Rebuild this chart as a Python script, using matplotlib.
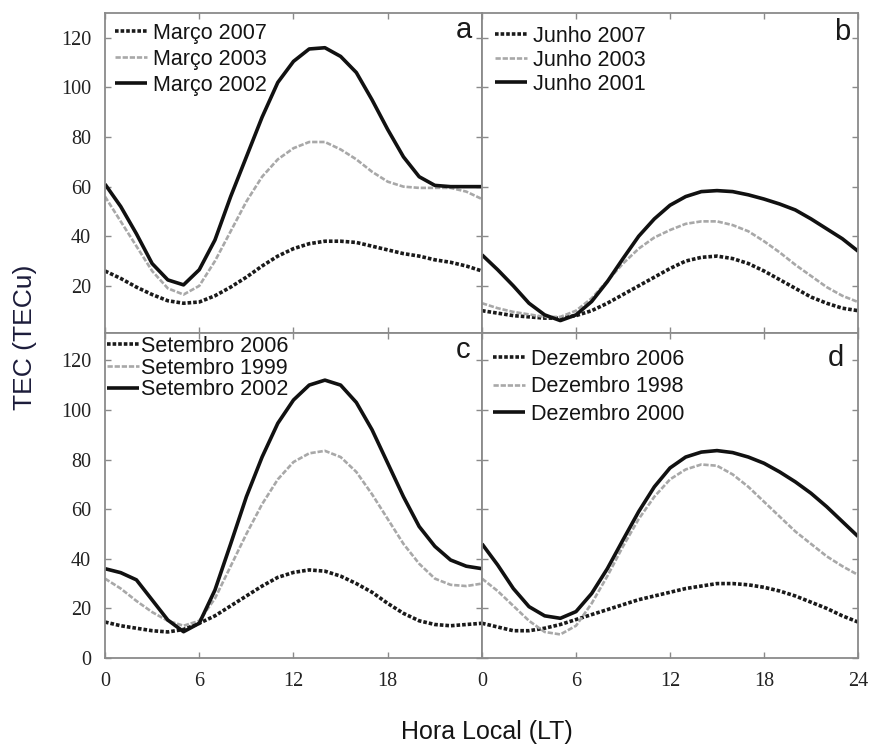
import matplotlib
matplotlib.use("Agg")
import matplotlib.pyplot as plt
import numpy as np

hours = list(range(0, 25))

# Panel a - Março
marco_2007 = [26, 23, 19.5, 16.5, 14, 13, 13.5, 16, 19.5, 23.5, 28, 32, 35, 37, 38, 38, 37.5, 36, 34.5, 33, 32, 30.5, 29.5, 28, 26]
marco_2003 = [56, 46, 36, 26, 19, 16.5, 20, 30, 42, 54, 64, 71, 75.5, 78, 78, 75, 71, 66, 62, 60, 59.5, 59.5, 59.5, 58, 55]
marco_2002 = [61, 52, 41, 29, 22.4, 20.4, 26.5, 38.5, 56, 72, 88, 102, 110.5, 115.5, 116, 112.5, 106, 95, 83, 72, 64, 60.5, 60, 60, 60]

# Panel b - Junho
junho_2007 = [10, 9, 8, 7.5, 7, 7, 8, 10, 13, 16.5, 20, 23.5, 27, 30, 31.5, 32, 31, 29, 26, 22.5, 19, 15.5, 13, 11, 10]
junho_2003 = [13, 11, 9.5, 8.5, 7.5, 7.5, 10, 15, 22, 29, 35, 39.5, 42.5, 45, 46, 46, 44.5, 42, 38, 33.5, 28.5, 24, 19.5, 16, 13.5]
junho_2001 = [32.5, 26.5, 20, 13, 8.3, 6, 8.3, 13.7, 21.7, 31, 40, 47, 52.5, 56, 58, 58.4, 58, 56.7, 55, 53, 50.6, 47, 43, 39, 34]

# Panel c - Setembro
setembro_2006 = [14.5, 13, 12, 11, 10.5, 11.5, 14, 17, 21, 25, 29, 32.5, 34.5, 35.5, 35, 33, 30, 26.5, 22, 18, 15, 13.5, 13, 13.5, 14]
setembro_1999 = [32, 28, 23, 18.5, 15, 13, 15, 24, 37, 50, 62, 72, 79, 82.5, 83.5, 81, 75, 66, 56, 46, 38, 32, 29.5, 29, 30]
setembro_2002 = [36, 34.4, 31.5, 23.4, 15.3, 10.6, 14, 27.4, 46, 65, 81, 94.6, 104, 110, 112, 110, 103, 92, 78.5, 65, 53, 45, 39.5, 37, 36]

# Panel d - Dezembro
dezembro_2006 = [14, 12.5, 11, 11, 12, 13.5, 15.5, 17.5, 19.5, 21.5, 23.5, 25, 26.5, 28, 29, 30, 30, 29.5, 28.5, 27, 25, 22.5, 20, 17, 14.5]
dezembro_1998 = [32, 27, 21, 15, 10.5, 9.5, 13, 22, 33, 45, 56, 65, 72, 76, 78, 77.5, 74, 69, 63, 57, 51, 46, 41, 37, 33.5]
dezembro_2000 = [46, 37.5, 28, 20.7, 17, 16, 18.7, 26, 36, 47.6, 59, 69, 76.6, 81, 83, 83.6, 82.8, 81, 78.5, 75, 71, 66.4, 61, 55, 49]

panel_letters = ["a", "b", "c", "d"]
labels_a = ["Março 2007", "Março 2003", "Março 2002"]
labels_b = ["Junho 2007", "Junho 2003", "Junho 2001"]
labels_c = ["Setembro 2006", "Setembro 1999", "Setembro 2002"]
labels_d = ["Dezembro 2006", "Dezembro 1998", "Dezembro 2000"]
x_ticks = [0, 6, 12, 18, 24]
y_ticks_top = [20, 40, 60, 80, 100, 120]
y_ticks_bottom = [0, 20, 40, 60, 80, 100, 120]

fig = plt.figure(figsize=(8.7, 7.51), dpi=100)
W, H = 870.0, 751.0

def ax_at(x0, y0, x1, y1):
    return fig.add_axes([x0 / W, 1 - y1 / H, (x1 - x0) / W, (y1 - y0) / H])

ax_a = ax_at(105, 13, 482, 333)
ax_b = ax_at(482, 13, 858, 333)
ax_c = ax_at(105, 333, 482, 658)
ax_d = ax_at(482, 333, 858, 658)

frame_col = "#8a8a8a"
serif = ["Liberation Serif", "DejaVu Serif"]
sans = ["Liberation Sans", "DejaVu Sans"]

styles = [
    dict(color="#1a1a1a", lw=2.6, linestyle=(0, (1.0, 0.55))),
    dict(color="#a8a8a8", lw=1.9, linestyle=(0, (2.0, 0.7))),
    dict(color="#111111", lw=2.6, linestyle="-"),
]

panels = [
    (ax_a, [marco_2007, marco_2003, marco_2002], labels_a, "a", (1, 130)),
    (ax_b, [junho_2007, junho_2003, junho_2001], labels_b, "b", (1, 130)),
    (ax_c, [setembro_2006, setembro_1999, setembro_2002], labels_c, "c", (0, 131)),
    (ax_d, [dezembro_2006, dezembro_1998, dezembro_2000], labels_d, "d", (0, 131)),
]

legend_opts = {
    "a": dict(anchor=(10 / 377, 1 - 10 / 320), spacing=0.23, tp=0.25),
    "b": dict(anchor=(13 / 376, 1 - 13 / 320), spacing=0.13, tp=0.25),
    "c": dict(anchor=(2 / 377, 1 - 3 / 325), spacing=0.03, tp=0.08),
    "d": dict(anchor=(11 / 376, 1 - 16 / 325), spacing=0.30, tp=0.25),
}
letter_pos = {"a": (464, 30), "b": (842, 32), "c": (463, 350), "d": (836, 358)}

for ax, series, labels, letter, ylim in panels:
    for vals, lab, st in zip(series, labels, styles):
        ax.plot(hours, vals, label=lab, solid_capstyle="butt",
                solid_joinstyle="round", **st)
    ax.set_xlim(0, 24)
    ax.set_ylim(*ylim)
    ax.set_xticks(x_ticks)
    ax.set_yticks(y_ticks_top if ylim[0] > 0 else y_ticks_bottom)
    ax.tick_params(direction="in", length=4, width=1, color=frame_col,
                   top=True, right=True, labelsize=14.5, pad=10)
    for sp in ax.spines.values():
        sp.set_color(frame_col)
        sp.set_linewidth(1.3)
    for t in ax.get_xticklabels() + ax.get_yticklabels():
        t.set_fontfamily(serif)
        t.set_color("#222222")
    o = legend_opts[letter]
    leg = ax.legend(loc="upper left", bbox_to_anchor=o["anchor"], frameon=False,
                    borderaxespad=0, borderpad=0, handlelength=1.5,
                    handletextpad=o["tp"], labelspacing=o["spacing"],
                    prop=dict(family=sans, size=15.5))
    for t in leg.get_texts():
        t.set_color("#141414")
    lx, ly = letter_pos[letter]
    fig.text(lx / W, 1 - ly / H, letter, ha="center", va="center",
             fontsize=21, fontfamily=sans, color="#1a1a1a")

for ax in (ax_a, ax_b):
    ax.tick_params(labelbottom=False)
for ax in (ax_b, ax_d):
    ax.tick_params(labelleft=False)
ax_c.set_xticklabels(["0", "6", "12", "18", ""])

fig.text(25 / W, 1 - 337 / H, "TEC (TECu)", rotation=90, ha="center", va="center",
         fontsize=19, fontfamily=sans, color="#1c1c3a")
fig.text(487 / W, 1 - 732 / H, "Hora Local (LT)", ha="center", va="center",
         fontsize=18, fontfamily=sans, color="#141414")

fig.savefig("out.png", dpi=100)
